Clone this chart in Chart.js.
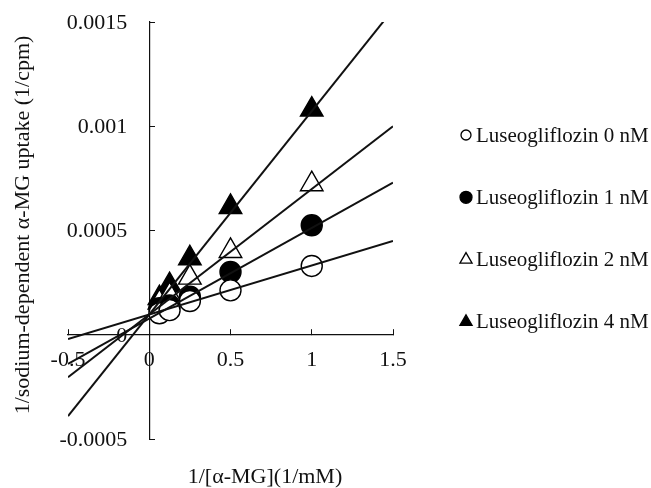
<!DOCTYPE html>
<html>
<head>
<meta charset="utf-8">
<script src="https://cdn.jsdelivr.net/npm/chart.js@4.4.1/dist/chart.umd.min.js"></script>
<style>
  html, body { margin: 0; padding: 0; background: #fff; }
  #wrap { position: relative; width: 651px; height: 488px; }
</style>
</head>
<body>
<div id="wrap"><canvas id="c" width="651" height="488"></canvas></div>
<script>
// ---- data ----
const xValues = [0.0625, 0.125, 0.25, 0.5, 1];           // 1/[α-MG] (1/mM)
const seriesLabels = ['Luseogliflozin 0 nM', 'Luseogliflozin 1 nM', 'Luseogliflozin 2 nM', 'Luseogliflozin 4 nM'];
const lus0 = [0.000103, 0.000118, 0.000162, 0.000213, 0.00033];
const lus1 = [0.000127, 0.00014, 0.000183, 0.000301, 0.000525];
const lus2 = [0.000155, 0.00019, 0.000274, 0.000402, 0.000722];
const lus4 = [0.000176, 0.000238, 0.000367, 0.000613, 0.00108];
// fitted lines, read at their two ends (x = -0.5 and x = 1.5)
const lineX = [-0.5, 1.5];
const line0 = [-0.00002, 0.00045];
const line1 = [-0.00014, 0.00073];
const line2 = [-0.000204, 0.001];
const line4 = [-0.00039, 0.00156];
const xTickValues = [-0.5, 0, 0.5, 1, 1.5];
const xTickLabels = ['-0.5', '0', '0.5', '1', '1.5'];
const yTickValues = [-0.0005, 0, 0.0005, 0.001, 0.0015];
const yTickLabels = ['-0.0005', '0', '0.0005', '0.001', '0.0015'];
const xTitle = '1/[α-MG](1/mM)';
const yTitle = '1/sodium-dependent α-MG uptake (1/cpm)';

// ---- chart ----
const FONT = 'Liberation Serif';
const pts = (ys) => xValues.map((x, i) => ({ x: x, y: ys[i] }));
const ln = (ys) => lineX.map((x, i) => ({ x: x, y: ys[i] }));

const lineDs = (ys) => ({
  type: 'line', data: ln(ys), showLine: true, pointRadius: 0,
  borderColor: '#111', borderWidth: 2, fill: false, isTrend: true
});
const ptDs = (label, ys, style, filled, r) => ({
  type: 'scatter', label: label, data: pts(ys), showLine: false,
  pointStyle: style, pointRadius: r, pointHoverRadius: r,
  backgroundColor: filled ? '#000' : '#fff', borderColor: '#000', borderWidth: 1.4,
  legendRadius: style === 'circle' ? (filled ? 6 : 5) : 7
});

const overlay = {
  id: 'overlay',
  afterDraw(chart) {
    const ctx = chart.ctx;
    const xs = chart.scales.x, ys = chart.scales.y;
    ctx.save();
    ctx.fillStyle = '#111';
    ctx.font = '22px "' + FONT + '"';
    // y tick labels, placed left of the y axis (which sits at x = 0)
    ctx.textAlign = 'right';
    ctx.textBaseline = 'middle';
    const axisX = xs.getPixelForValue(0);
    yTickValues.forEach((v, i) => {
      ctx.fillText(yTickLabels[i], axisX - 22, ys.getPixelForValue(v) + 1);
    });
    // axis titles
    ctx.textAlign = 'center';
    ctx.fillText(xTitle, 265, 477);
    ctx.save();
    ctx.translate(23, 225);
    ctx.rotate(-Math.PI / 2);
    ctx.fillText(yTitle, 0, 0);
    ctx.restore();
    // legend
    const items = chart.data.datasets.filter(d => !d.isTrend);
    ctx.font = '21px "' + FONT + '"';
    ctx.textAlign = 'left';
    items.forEach((d, i) => {
      const y = 135 + i * 62.3;
      ctx.fillStyle = d.backgroundColor;
      ctx.strokeStyle = d.borderColor;
      ctx.lineWidth = 1.3;
      Chart.helpers.drawPoint(ctx, { pointStyle: d.pointStyle, radius: d.legendRadius, borderWidth: 1.3, rotation: 0 }, 466, y);
      ctx.fillStyle = '#111';
      ctx.fillText(d.label, 476, y + 1);
    });
    ctx.restore();
  }
};

new Chart(document.getElementById('c'), {
  data: {
    datasets: [
      lineDs(line0), lineDs(line1), lineDs(line2), lineDs(line4),
      ptDs(seriesLabels[0], lus0, 'circle', false, 10.5),
      ptDs(seriesLabels[1], lus1, 'circle', true, 10.5),
      ptDs(seriesLabels[2], lus2, 'triangle', false, 13),
      ptDs(seriesLabels[3], lus4, 'triangle', true, 13)
    ]
  },
  options: {
    responsive: false,
    animation: false,
    devicePixelRatio: 1,
    layout: { padding: { left: 68, right: 258, top: 22, bottom: 49 } },
    plugins: { legend: { display: false }, tooltip: { enabled: false } },
    scales: {
      x: {
        type: 'linear', min: -0.5, max: 1.5, position: { y: 0 },
        afterBuildTicks: s => { s.ticks = xTickValues.map(v => ({ value: v })); },
        ticks: {
          callback: (v, i) => xTickLabels[i], autoSkip: false, maxRotation: 0,
          font: { family: FONT, size: 22 }, color: '#111', padding: 18
        },
        grid: { drawOnChartArea: false, drawTicks: true, tickLength: -6, color: '#111', lineWidth: 1 },
        border: { display: true, color: '#111', width: 1.2 }
      },
      y: {
        type: 'linear', min: -0.0005, max: 0.0015, position: { x: 0 },
        afterBuildTicks: s => { s.ticks = yTickValues.map(v => ({ value: v })); },
        ticks: { display: false },
        grid: { drawOnChartArea: false, drawTicks: true, tickLength: -6, color: '#111', lineWidth: 1 },
        border: { display: true, color: '#111', width: 1.2 }
      }
    }
  },
  plugins: [overlay]
});
</script>
</body>
</html>
